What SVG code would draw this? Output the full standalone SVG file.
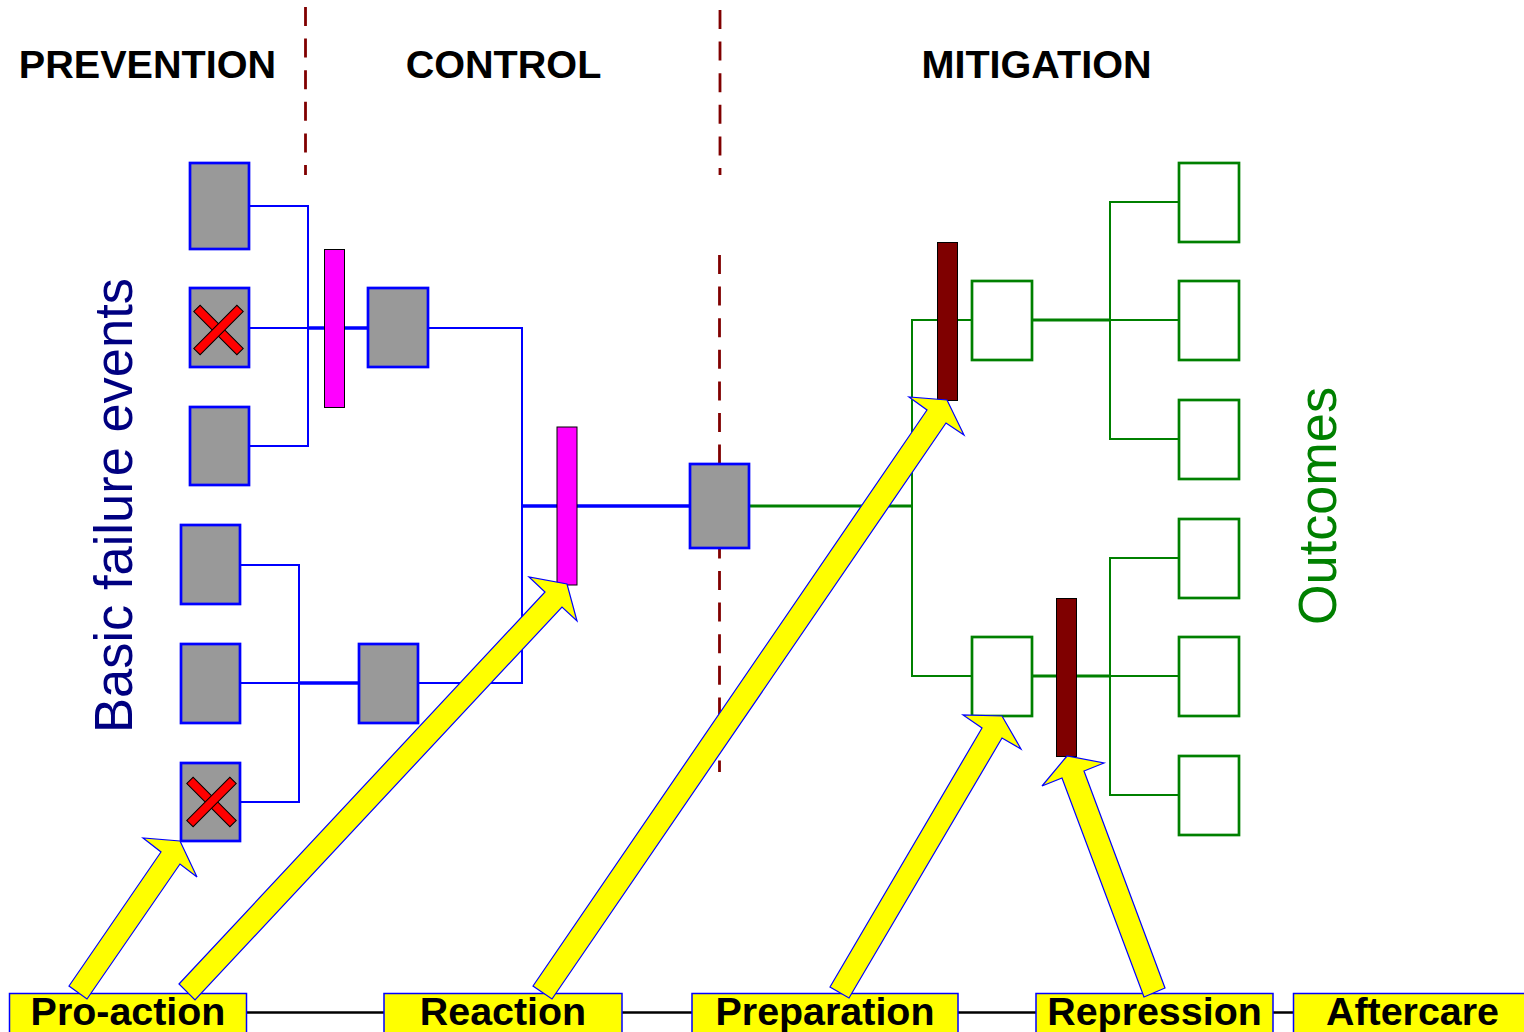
<svg xmlns="http://www.w3.org/2000/svg" width="1524" height="1032" viewBox="0 0 1524 1032">
<style>
.hdr{font-family:"Liberation Sans",Arial,sans-serif;font-weight:bold;font-size:39.6px;fill:#000;text-anchor:middle}
.lbl{font-family:"Liberation Sans",Arial,sans-serif;font-weight:bold;font-size:39.4px;fill:#000;text-anchor:middle}
.side{font-family:"Liberation Sans",Arial,sans-serif;font-size:54px;text-anchor:middle}
.ev{fill:#999999;stroke:#0000FF;stroke-width:2.7}
.out{fill:#FFFFFF;stroke:#008000;stroke-width:2.7}
.bl{fill:none;stroke:#0000FF;stroke-width:2}
.blt{fill:none;stroke:#0000FF;stroke-width:3.4}
.gl{fill:none;stroke:#008000;stroke-width:2}
.glt{fill:none;stroke:#008000;stroke-width:3}
.dash{stroke:#800000;stroke-width:2.8;stroke-dasharray:19 12.6;fill:none}
.gate{fill:#FF00FF;stroke:#000;stroke-width:1}
.bar{fill:#7F0000;stroke:#000;stroke-width:1}
.arr{fill:#FFFF00;stroke:#0000FF;stroke-width:1.2;stroke-linejoin:miter}
.phase{fill:#FFFF00;stroke:#0000FF;stroke-width:1.5}
.x{fill:#FF0000;stroke:#000;stroke-width:1}
</style>

<g id="dividers">
<line class="dash" x1="305.5" y1="7" x2="305.5" y2="175"/>
<line class="dash" x1="720" y1="10" x2="720" y2="175"/>
<line class="dash" x1="719.5" y1="255" x2="719.5" y2="772"/>
</g>

<g id="headers">
<text class="hdr" x="147.5" y="77.5">PREVENTION</text>
<text class="hdr" x="503.5" y="77.5">CONTROL</text>
<text class="hdr" x="1036.5" y="77.5">MITIGATION</text>
</g>

<g id="side-labels">
<text class="side" fill="#000080" transform="translate(131.5,505.5) rotate(-90)" textLength="455" lengthAdjust="spacingAndGlyphs">Basic failure events</text>
<text class="side" fill="#008000" transform="translate(1336,506) rotate(-90)" textLength="238" lengthAdjust="spacingAndGlyphs">Outcomes</text>
</g>

<g id="connectors">
<polyline class="bl" points="249,206 308,206 308,446 249,446"/>
<line class="bl" x1="249" y1="328" x2="308" y2="328"/>
<line class="blt" x1="308" y1="328" x2="368" y2="328"/>
<polyline class="bl" points="428,328 522,328 522,683 418,683"/>
<line class="blt" x1="522" y1="506" x2="690" y2="506"/>
<polyline class="bl" points="240,565 299,565 299,802 240,802"/>
<line class="bl" x1="240" y1="683" x2="299" y2="683"/>
<line class="blt" x1="299" y1="683" x2="359" y2="683"/>
<line class="glt" x1="749" y1="506" x2="912" y2="506"/>
<polyline class="gl" points="972,320 912,320 912,676 972,676"/>
<line class="glt" x1="1032" y1="320" x2="1110" y2="320"/>
<polyline class="gl" points="1179,202 1110,202 1110,439 1179,439"/>
<line class="gl" x1="1110" y1="320" x2="1179" y2="320"/>
<line class="glt" x1="1032" y1="676" x2="1110" y2="676"/>
<polyline class="gl" points="1179,558 1110,558 1110,795 1179,795"/>
<line class="gl" x1="1110" y1="676" x2="1179" y2="676"/>
<line stroke="#000" stroke-width="2.5" x1="246" y1="1012.5" x2="1293" y2="1012.5"/>
</g>

<g id="event-1"><rect class="ev" x="190" y="163" width="59" height="86"/></g>
<g id="event-2"><rect class="ev" x="190" y="288" width="59" height="79"/>
<rect class="x" x="188" y="325.5" width="61" height="9" transform="rotate(45 218.5 330)"/>
<rect class="x" x="188" y="325.5" width="61" height="9" transform="rotate(-45 218.5 330)"/></g>
<g id="event-3"><rect class="ev" x="190" y="407" width="59" height="78"/></g>
<g id="event-4"><rect class="ev" x="181" y="525" width="59" height="79"/></g>
<g id="event-5"><rect class="ev" x="181" y="644" width="59" height="79"/></g>
<g id="event-6"><rect class="ev" x="181" y="763" width="59" height="78"/>
<rect class="x" x="181" y="797.5" width="61" height="9" transform="rotate(45 211.5 802)"/>
<rect class="x" x="181" y="797.5" width="61" height="9" transform="rotate(-45 211.5 802)"/></g>
<g id="event-top"><rect class="ev" x="368" y="288" width="60" height="79"/></g>
<g id="event-bottom"><rect class="ev" x="359" y="644" width="59" height="79"/></g>
<g id="top-event"><rect class="ev" x="690" y="464" width="59" height="84"/></g>

<g id="gate-1"><rect class="gate" x="324.5" y="249.5" width="20" height="158"/></g>
<g id="gate-2"><rect class="gate" x="557" y="427" width="20" height="158"/></g>
<g id="barrier-1"><rect class="bar" x="937.5" y="242.5" width="20" height="158"/></g>
<g id="barrier-2"><rect class="bar" x="1056.5" y="598.5" width="20" height="158"/></g>

<g id="outcome-f"><rect class="out" x="972" y="281" width="60" height="79"/></g>
<g id="outcome-g"><rect class="out" x="972" y="637" width="60" height="79"/></g>
<g id="outcome-1"><rect class="out" x="1179" y="163" width="60" height="79"/></g>
<g id="outcome-2"><rect class="out" x="1179" y="281" width="60" height="79"/></g>
<g id="outcome-3"><rect class="out" x="1179" y="400" width="60" height="79"/></g>
<g id="outcome-4"><rect class="out" x="1179" y="519" width="60" height="79"/></g>
<g id="outcome-5"><rect class="out" x="1179" y="637" width="60" height="79"/></g>
<g id="outcome-6"><rect class="out" x="1179" y="756" width="60" height="79"/></g>

<g id="phase-proaction"><rect class="phase" x="9.5" y="993.5" width="237" height="50"/><text class="lbl" x="128" y="1025">Pro-action</text></g>
<g id="phase-reaction"><rect class="phase" x="384" y="993.5" width="238" height="50"/><text class="lbl" x="503" y="1025">Reaction</text></g>
<g id="phase-preparation"><rect class="phase" x="692" y="993.5" width="266" height="50"/><text class="lbl" x="825" y="1025">Preparation</text></g>
<g id="phase-repression"><rect class="phase" x="1036" y="993.5" width="237" height="50"/><text class="lbl" x="1154.5" y="1025">Repression</text></g>
<g id="phase-aftercare"><rect class="phase" x="1293.5" y="993.5" width="238" height="50"/><text class="lbl" x="1412.5" y="1025">Aftercare</text></g>

<g id="arrows">
<polygon class="arr" points="69,986 161,852 143,838 180,841 197,877 180,864 87,999"/>
<polygon class="arr" points="179,984 545,592 529,577 567,584 577,621 562,607 195,1000"/>
<polygon class="arr" points="533,986 927,410 909,397 947,400 964,435 946,423 552,999"/>
<polygon class="arr" points="830,987 982,728 963,715 1002,716 1021,749 1002,738 849,998"/>
<polygon class="arr" points="1144,997 1062,778 1042,786 1067,756 1104,763 1084,771 1165,988"/>
</g>
</svg>
